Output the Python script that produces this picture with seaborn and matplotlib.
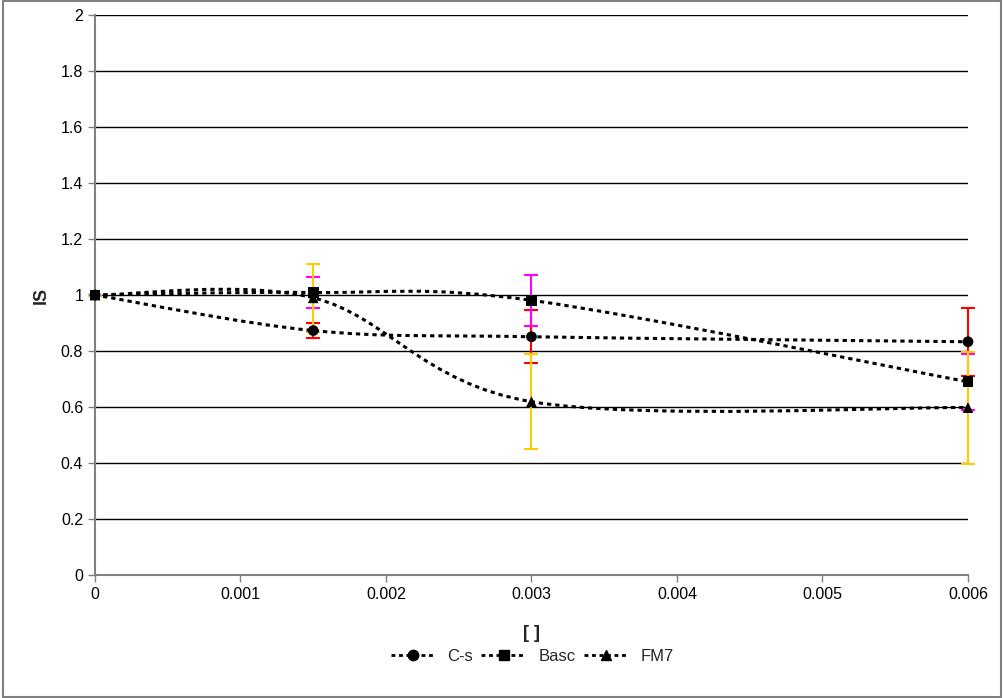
import matplotlib
matplotlib.use("Agg")
import matplotlib.pyplot as plt
import seaborn as sns
import numpy as np
import pandas as pd
from matplotlib.path import Path
from matplotlib.patches import PathPatch, Rectangle
from matplotlib.lines import Line2D

x = [0, 0.0015, 0.003, 0.006]
cs = [1.0, 0.873, 0.851, 0.833]
basc = [1.0, 1.009, 0.981, 0.690]
fm7 = [1.0, 0.990, 0.619, 0.598]
cs_err = [0.0, 0.028, 0.095, 0.122]
basc_err = [0.0, 0.054, 0.090, 0.100]
fm7_err = [0.0, 0.122, 0.170, 0.200]

names = ["C-s", "Basc", "FM7"]
markers = {"C-s": "o", "Basc": "s", "FM7": "^"}
err_colors = {"C-s": "#FF0000", "Basc": "#FF00FF", "FM7": "#FFCC00"}

df = pd.concat([
    pd.DataFrame({"x": x, "y": v, "err": e, "series": n})
    for n, v, e in zip(names, [cs, basc, fm7], [cs_err, basc_err, fm7_err])
])

sns.set_style("white")
plt.rcParams["font.family"] = ["Liberation Sans", "DejaVu Sans"]

fig = plt.figure(figsize=(10.04, 6.98), dpi=100)
ax = fig.add_axes([0.0946, 0.1762, 0.8695, 0.8023])


def smooth_path(px, py):
    # Excel-style smoothed line: cubic bezier, tension 1/6
    pts = np.column_stack([px, py])
    n = len(pts)
    verts = [pts[0]]
    codes = [Path.MOVETO]
    for i in range(n - 1):
        p0 = pts[max(i - 1, 0)]
        p1 = pts[i]
        p2 = pts[i + 1]
        p3 = pts[min(i + 2, n - 1)]
        c1 = p1 + (p2 - p0) / 6
        c2 = p2 - (p3 - p1) / 6
        verts += [c1, c2, p2]
        codes += [Path.CURVE4] * 3
    return Path(verts, codes)


for n in names:
    d = df[df.series == n]
    eb = ax.errorbar(d.x, d.y, yerr=d.err, fmt="none", ecolor=err_colors[n],
                     elinewidth=1.5, capsize=5, capthick=1.5, zorder=2)
    for art in eb.lines[1] + eb.lines[2]:
        art.set_clip_on(False)

for n in names:
    d = df[df.series == n]
    patch = PathPatch(smooth_path(d.x.values, d.y.values), facecolor="none",
                      edgecolor="black", lw=2.2, linestyle=(0, (1.4, 1.3)), zorder=3)
    ax.add_patch(patch)

sns.scatterplot(data=df, x="x", y="y", style="series", markers=markers,
                color="black", s=60, edgecolor="black", linewidth=0,
                legend=False, ax=ax, zorder=4, clip_on=False)

ax.set_xlim(0, 0.006)
ax.set_ylim(0, 2)
ax.set_xticks(np.arange(0, 0.0061, 0.001))
ax.set_xticklabels(["0", "0.001", "0.002", "0.003", "0.004", "0.005", "0.006"])
ax.set_yticks(np.arange(0, 2.01, 0.2))
ax.set_yticklabels(["0", "0.2", "0.4", "0.6", "0.8", "1", "1.2", "1.4", "1.6", "1.8", "2"])
ax.yaxis.grid(True, color="black", lw=1)
ax.xaxis.grid(False)
ax.set_axisbelow(True)
for s in ["top", "right"]:
    ax.spines[s].set_visible(False)
for s in ["left", "bottom"]:
    ax.spines[s].set_color("#808080")
    ax.spines[s].set_linewidth(1.5)
ax.tick_params(axis="both", which="both", direction="out", length=5, width=1,
               color="#808080", labelsize=11.5, labelcolor="black",
               bottom=True, left=True)
ax.set_xlabel("[ ]", fontsize=13, fontweight="bold", labelpad=17)
ax.set_ylabel("IS", fontsize=13, fontweight="bold", labelpad=8)

handles = [Line2D([0], [0], color="black", lw=2, linestyle=(0, (1.4, 1.3)),
                  marker=markers[n], markersize=7.5, markerfacecolor="black",
                  markeredgecolor="black") for n in names]
fig.legend(handles, names, loc="center", bbox_to_anchor=(0.53, 0.06), ncol=3,
           frameon=False, fontsize=12, handlelength=2.7, columnspacing=0.5,
           handletextpad=0.7)

fig.patches.append(Rectangle((0.003, 0.002), 0.994, 0.996, transform=fig.transFigure,
                             fill=False, edgecolor="#808080", lw=1.5))

fig.savefig("out.png", dpi=100)
